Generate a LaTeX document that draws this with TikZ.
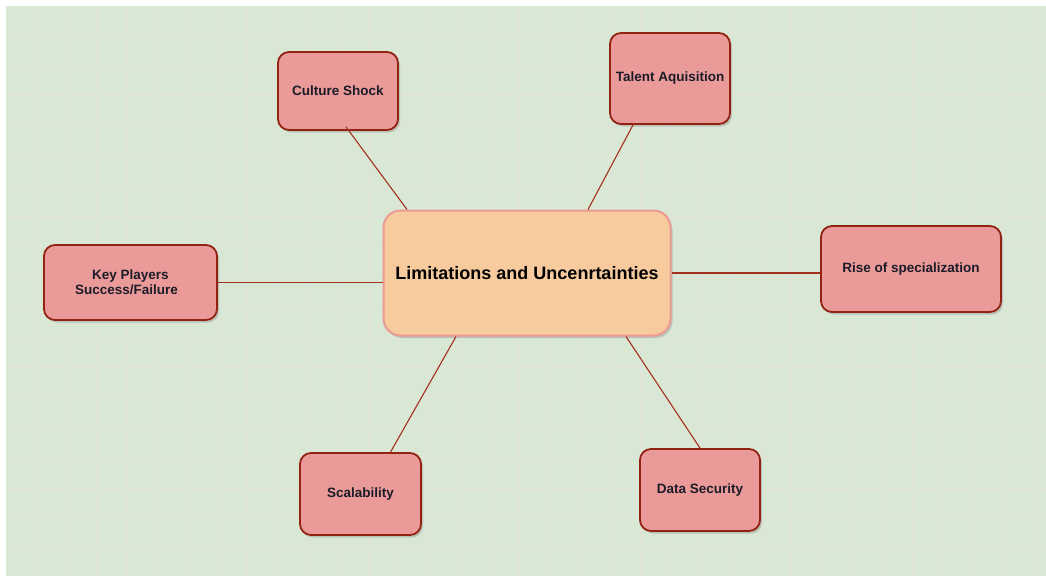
\documentclass[tikz,border=0pt]{standalone}
\usepackage{fontspec}
\setmainfont{Liberation Sans}
\usetikzlibrary{shadows,calc}
\definecolor{bggreen}{HTML}{D8E8D4}
\definecolor{gridc}{HTML}{E2E1DC}
\definecolor{boxfill}{HTML}{EA9A99}
\definecolor{boxdraw}{HTML}{922312}
\definecolor{cfill}{HTML}{F8CB9E}
\definecolor{cdraw}{HTML}{EC9A94}
\definecolor{linkc}{HTML}{A3301F}
\definecolor{txtc}{HTML}{1C1C28}
\tikzset{
  leaf/.style={rectangle, rounded corners=11pt, fill=boxfill, draw=boxdraw, line width=1.8pt,
    align=center, font=\fontsize{13.5}{15}\selectfont\bfseries, text=txtc,
    drop shadow={opacity=0.35, shadow xshift=2pt, shadow yshift=-2.5pt}},
  hub/.style={rectangle, rounded corners=17pt, fill=cfill, draw=cdraw, line width=2pt,
    align=center, font=\fontsize{18}{20}\selectfont\bfseries, text=black,
    minimum width=287pt, minimum height=125pt,
    drop shadow={opacity=0.35, shadow xshift=2pt, shadow yshift=-2.5pt}},
  link/.style={draw=linkc, line width=1.1pt}
}
\begin{document}
\begin{tikzpicture}[x=1pt,y=-1pt]
\useasboundingbox (0,0) rectangle (1046,576);
\fill[white] (0,0) rectangle (1046,576);
\fill[bggreen] (6,6) rectangle (1046,576);
\foreach \i in {0,...,33} {
  \draw[gridc, line width=1pt] ({36.5+30.2*\i},6) -- ({36.5+30.2*\i},576);
}
\foreach \j in {0,...,18} {
  \draw[gridc, line width=1pt] (6,{35+30.2*\j}) -- (1046,{35+30.2*\j});
}
% nodes
\node[hub] (c) at (527,273) {Limitations and Uncenrtainties};
\node[leaf, minimum width=120pt, minimum height=78pt] (cs) at (338,91) {\raisebox{-1.5pt}{Culture Shock}};
\node[leaf, minimum width=120pt, minimum height=91pt] (ta) at (670,78.5) {\raisebox{-1.5pt}{Talent Aquisition}};
\node[leaf, minimum width=173pt, minimum height=75pt] (kp) at (130.5,282.5) {Key Players\\\hspace*{-8pt}Success/Failure};
\node[leaf, minimum width=180pt, minimum height=86pt] (rs) at (911,269) {\raisebox{-2pt}{Rise of specialization}};
\node[leaf, minimum width=121pt, minimum height=82pt] (sc) at (360.5,494) {\raisebox{-1.5pt}{Scalability}};
\node[leaf, minimum width=120pt, minimum height=82pt] (ds) at (700,490) {\raisebox{-1.5pt}{Data Security}};
% connectors
\draw[link] ([xshift=8pt,yshift=4pt]cs.south) -- ([xshift=-120pt]c.north);
\draw[link] ([xshift=-37pt]ta.south) -- ([xshift=61pt]c.north);
\draw[link] (kp.east) -- (kp.east -| c.west);
\draw[link] (c.east) -- (c.east -| rs.west);
\draw[link] ([xshift=-71pt]c.south) -- ([xshift=30pt]sc.north);
\draw[link] ([xshift=99pt]c.south) -- (ds.north);
\end{tikzpicture}
\end{document}
